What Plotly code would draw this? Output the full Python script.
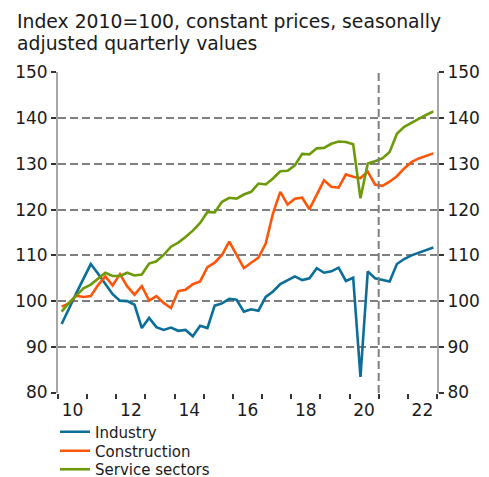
import plotly.graph_objects as go

# ---- data (quarterly, 2010Q1 .. 2022Q4) ----
years = list(range(2010, 2023))
quarters = [f"{y}Q{q}" for y in years for q in (1, 2, 3, 4)]

industry = [95.0, 98.5, 101.7, 104.9, 108.1, 106.0, 103.8, 101.5,
            100.1, 100.0, 99.2, 94.1, 96.3, 94.3, 93.7, 94.2,
            93.5, 93.7, 92.3, 94.6, 94.1, 99.0, 99.5, 100.5,
            100.3, 97.7, 98.2, 97.9, 100.9, 102.1, 103.7, 104.6,
            105.4, 104.6, 105.0, 107.2, 106.2, 106.5, 107.3, 104.4,
            105.1, 83.4, 106.5, 105.0, 104.6, 104.3, 108.1, 109.2,
            110.0, 110.6, 111.2, 111.7]

construction = [98.8, 99.5, 101.2, 100.9, 101.1, 103.5, 105.4, 103.4,
                105.9, 103.2, 101.4, 103.3, 100.1, 101.1, 99.6, 98.5,
                102.2, 102.5, 103.7, 104.3, 107.4, 108.4, 110.1, 113.0,
                110.1, 107.2, 108.4, 109.5, 112.6, 119.2, 123.9, 121.1,
                122.4, 122.6, 120.1, 123.2, 126.4, 125.0, 124.8, 127.7,
                127.2, 126.9, 128.3, 125.5, 125.2, 126.1, 127.3, 129.0,
                130.4, 131.2, 131.8, 132.3]

services = [97.7, 99.6, 101.2, 102.8, 103.6, 105.0, 106.2, 105.5,
            105.5, 106.2, 105.6, 105.8, 108.2, 108.7, 110.1, 111.9,
            112.8, 114.0, 115.4, 117.1, 119.5, 119.4, 121.7, 122.6,
            122.4, 123.3, 123.9, 125.7, 125.5, 126.8, 128.4, 128.5,
            129.7, 132.2, 132.1, 133.4, 133.5, 134.4, 134.9, 134.8,
            134.3, 122.5, 130.1, 130.6, 131.2, 132.6, 136.6, 138.1,
            139.0, 139.9, 140.7, 141.5]

series_names = ["Industry", "Construction", "Service sectors"]
series_colors = ["#0b6e99", "#ff5508", "#6c9a08"]

tick_years = [2010, 2012, 2014, 2016, 2018, 2020, 2022]
tick_labels = ["10", "12", "14", "16", "18", "20", "22"]
y_ticks = [80, 90, 100, 110, 120, 130, 140, 150]
forecast_start = 2021

title_lines = ["Index 2010=100, constant prices, seasonally",
               "adjusted quarterly values"]


def qpos(label):
    y, q = label.split("Q")
    return int(y) + (int(q) - 0.5) / 4


x = [qpos(q) for q in quarters]

FONT = "DejaVu Sans"
TXT = "#1a1a1a"
GRID = "#7f7f7f"

W, H = 489, 477
ML, MR, MT, MB = 58, 52, 72, 84
PW, PH = W - ML - MR, H - MT - MB

legend_ids = ["legend", "legend2", "legend3"]
legend_centers = [432, 451, 469.5]

fig = go.Figure()
for name, vals, col, lg in zip(series_names, [industry, construction, services],
                               series_colors, legend_ids):
    fig.add_trace(go.Scatter(x=x, y=vals, name=name, mode="lines", legend=lg,
                             line=dict(color=col, width=2.6)))

# invisible trace to activate the right-hand axis
fig.add_trace(go.Scatter(x=x, y=industry, yaxis="y2", mode="lines",
                         line=dict(color="rgba(0,0,0,0)"), showlegend=False,
                         hoverinfo="skip"))

fig.add_shape(type="line", xref="x", yref="paper", x0=forecast_start, x1=forecast_start,
              y0=0, y1=1, line=dict(color=GRID, width=2, dash="8px,4px"))

# title lines as annotations
for line, ypx in zip(title_lines, [21, 43]):
    fig.add_annotation(text=line, xref="paper", yref="paper",
                       x=(15 - ML) / PW, y=(H - MB - ypx) / PH,
                       xanchor="left", yanchor="middle", showarrow=False,
                       font=dict(family=FONT, size=18.8, color=TXT))

yaxis_common = dict(range=[79.9, 150.1], tickvals=y_ticks, ticks="outside", ticklen=5,
                    tickwidth=1.5, tickcolor="#333", showline=True, linecolor="#a6a6a6",
                    linewidth=2, tickfont=dict(family=FONT, size=17, color=TXT),
                    zeroline=False, fixedrange=True)

legend_layout = {}
for lg, c in zip(legend_ids, legend_centers):
    legend_layout[lg] = dict(x=(55 - ML) / PW, xanchor="left", yref="container",
                             y=1 - c / H, yanchor="middle", orientation="v",
                             font=dict(family=FONT, size=15, color=TXT),
                             bgcolor="rgba(0,0,0,0)", itemwidth=30, borderwidth=0)

fig.update_layout(
    width=W, height=H,
    margin=dict(l=ML, r=MR, t=MT, b=MB, autoexpand=False),
    paper_bgcolor="white", plot_bgcolor="white",
    font=dict(family=FONT, color=TXT),
    xaxis=dict(range=[2010, 2023], tickvals=[t + 0.5 for t in tick_years], ticktext=tick_labels,
               ticks="outside", ticklen=2, tickcolor="rgba(0,0,0,0)",
               showgrid=False, showline=False, zeroline=False,
               tickfont=dict(family=FONT, size=17, color=TXT),
               minor=dict(tickvals=list(range(2010, 2024)), ticks="outside", ticklen=5,
                          tickwidth=1.5, tickcolor="#333", showgrid=False)),
    yaxis=dict(**yaxis_common, showgrid=True, gridcolor=GRID, gridwidth=2, griddash="8px,4px",
               side="left"),
    yaxis2=dict(**yaxis_common, showgrid=False, overlaying="y", side="right", anchor="x"),
    showlegend=True,
    **legend_layout,
)

fig.write_html("out.html", post_script="document.body.style.margin='0';",
               config={"displayModeBar": False})
